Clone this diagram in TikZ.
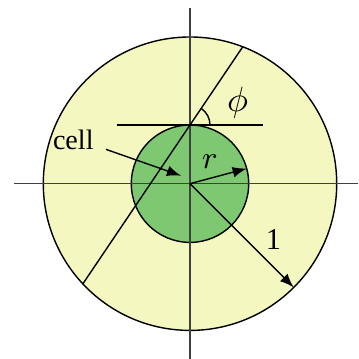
\documentclass[tikz,border=0pt]{standalone}
\usepackage{fontspec}
\setmainfont{Liberation Serif}
\usepackage{xcolor}
\usetikzlibrary{positioning}
\definecolor{paleyellow}{RGB}{245,247,192}
\definecolor{cellgreen}{RGB}{126,200,114}

\begin{document}
\begin{tikzpicture}[>=latex, font=\fontsize{8}{10}\selectfont,
    axis/.style={black!75, line width=0.4pt}]
    \useasboundingbox (-1.90,-1.753) rectangle (1.68,1.837);
    \coordinate (O) at (0,0);
    \coordinate (T) at (0,0.587);

    % Disc and cell
    \draw[fill=paleyellow] (O) circle (1.467);
    \draw[fill=cellgreen] (O) circle (0.587);

    % Axes
    \draw[axis] (-1.76,0) -- (1.68,0);
    \draw[axis] (0,-1.753) -- (0,1.754);

    % Tangent and slanted line
    \draw (-0.733,0.587) -- (0.733,0.587);
    \draw ([shift={(236:1.917)}]T) -- ([shift={(56:0.943)}]T);

    % Angle
    \draw (T) ++(0.2,0) arc[start angle=0, end angle=56, radius=0.2];
    \node[font=\fontsize{10}{12}\selectfont] (phi) at (0.477,0.81) {$\phi$};

    % Radius r
    \coordinate (rtip) at (15:0.587);
    \draw[->] (O) -- (rtip);
    \node[font=\fontsize{9}{11}\selectfont] (r) at (0.2,0.225) {$r$};

    % Radius 1
    \coordinate (Rtip) at (-45:1.467);
    \draw[->] (O) -- (Rtip);
    \node[font=\fontsize{8.6}{10}\selectfont] (one) at (0.833,-0.56) {1};

    % Cell label
    \node (cell) at (-1.167,0.44) {cell};
    \coordinate (cellpt) at (-0.09,0.08);
    \draw[->] ([yshift=-0.6ex]cell.east) -- (cellpt);
\end{tikzpicture}
\end{document}
